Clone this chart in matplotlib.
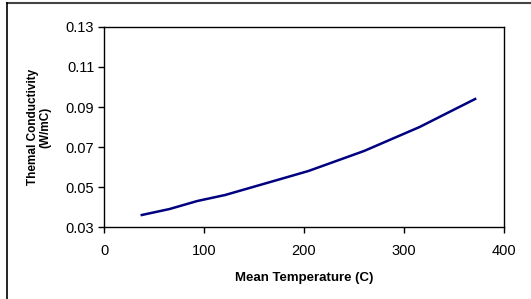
import matplotlib
matplotlib.use('Agg')
import matplotlib.pyplot as plt
from matplotlib.lines import Line2D

# mean temperature (C) and thermal conductivity (W/mC)
temps = [37.8, 65.6, 93.3, 121.1, 148.9, 176.7, 204.4, 232.2, 260.0, 287.8, 315.6, 343.3, 371.1]
conductivity = [0.036, 0.039, 0.043, 0.046, 0.050, 0.054, 0.058, 0.063, 0.068, 0.074, 0.080, 0.087, 0.094]
x_ticks = [0, 100, 200, 300, 400]
y_ticks = [0.03, 0.05, 0.07, 0.09, 0.11, 0.13]

plt.rcParams['font.family'] = ['Liberation Sans', 'DejaVu Sans']

fig = plt.figure(figsize=(5.31, 2.99), dpi=100)
ax = fig.add_axes([0.1959, 0.2408, 0.7533, 0.6689])

ax.plot(temps, conductivity, color='#000080', linewidth=1.8)

ax.set_xlim(0, 400)
ax.set_ylim(0.03, 0.13)
ax.set_xticks(x_ticks)
ax.set_yticks(y_ticks)
ax.set_yticklabels(['%.2f' % v for v in y_ticks])
ax.tick_params(axis='both', direction='out', length=4, width=1, labelsize=10.5, colors='black', pad=3)
ax.tick_params(axis='x', pad=8)
for s in ax.spines.values():
    s.set_linewidth(1)
    s.set_color('black')

ax.set_xlabel('Mean Temperature (C)', fontsize=9.5, fontweight='bold', labelpad=10)
ax.set_ylabel('Themal Conductivity\n(W/mC)', fontsize=8.5, fontweight='bold', labelpad=10,
              linespacing=1.1)

# outer chart frame (top and left edges visible)
fig.add_artist(Line2D([7 / 531, 1], [1 - 3 / 299, 1 - 3 / 299], transform=fig.transFigure,
                      color='#444444', linewidth=1.5))
fig.add_artist(Line2D([7 / 531, 7 / 531], [0, 1 - 3 / 299], transform=fig.transFigure,
                      color='black', linewidth=1.2))

fig.savefig('out.png', dpi=100)
